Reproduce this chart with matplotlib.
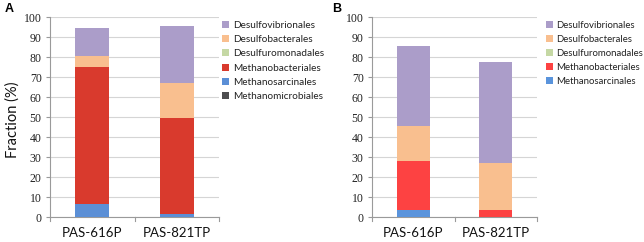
import matplotlib
matplotlib.use("Agg")
import matplotlib.pyplot as plt
from matplotlib.patches import Patch

samples = ["PAS-616P", "PAS-821TP"]

# Panel A (bottom -> top stacking order)
a_orders = ["Methanomicrobiales", "Methanosarcinales", "Methanobacteriales",
            "Desulfuromonadales", "Desulfobacterales", "Desulfovibrionales"]
a_values = {
    "Methanomicrobiales": [0.0, 0.0],
    "Methanosarcinales": [6.5, 1.5],
    "Methanobacteriales": [68.5, 48.0],
    "Desulfuromonadales": [0.0, 0.0],
    "Desulfobacterales": [5.5, 17.5],
    "Desulfovibrionales": [14.0, 28.5],
}
a_colors = {
    "Methanomicrobiales": "#4d4d4f",
    "Methanosarcinales": "#5b8fd6",
    "Methanobacteriales": "#d93a2d",
    "Desulfuromonadales": "#c5d8a4",
    "Desulfobacterales": "#f9bf8f",
    "Desulfovibrionales": "#ab9dc9",
}

# Panel B
b_orders = ["Methanosarcinales", "Methanobacteriales",
            "Desulfuromonadales", "Desulfobacterales", "Desulfovibrionales"]
b_values = {
    "Methanosarcinales": [3.5, 0.0],
    "Methanobacteriales": [24.5, 3.5],
    "Desulfuromonadales": [0.0, 0.0],
    "Desulfobacterales": [17.5, 23.5],
    "Desulfovibrionales": [40.0, 50.5],
}
b_colors = {
    "Methanosarcinales": "#5a94dc",
    "Methanobacteriales": "#fd4242",
    "Desulfuromonadales": "#c5d8a4",
    "Desulfobacterales": "#f9bf8f",
    "Desulfovibrionales": "#ab9dc9",
}

yticks = list(range(0, 101, 10))

fig = plt.figure(figsize=(6.44, 2.42), dpi=100)
axA = fig.add_axes([50/644, 1-217/242, 169/644, 200/242])
axB = fig.add_axes([372/644, 1-217/242, 165/644, 200/242])

sans = ["Lato", "DejaVu Sans"]
serif = ["Liberation Serif", "DejaVu Serif"]


def draw(ax, orders, values, colors, legend_x, legend_fs):
    bottoms = [0.0] * len(samples)
    x = list(range(len(samples)))
    for name in orders:
        v = values[name]
        ax.bar(x, v, bottom=bottoms, width=0.4, color=colors[name], zorder=3)
        bottoms = [b + vi for b, vi in zip(bottoms, v)]
    ax.set_xlim(-0.5, len(samples) - 0.5)
    ax.set_ylim(0, 100)
    ax.set_yticks(yticks)
    ax.set_yticklabels([str(t) for t in yticks], fontfamily=serif, fontsize=8.5, color="#222222")
    ax.set_xticks(x)
    ax.set_xticklabels(samples, fontfamily=sans, fontsize=9.5, color="#111111")
    ax.tick_params(axis="x", length=0, pad=7)
    ax.tick_params(axis="y", length=3, color="#9a9a9a", direction="out", pad=3)
    # category boundary ticks on bottom
    for b in [-0.5, 0.5, 1.5]:
        ax.plot([b, b], [0, -1.8], color="#9a9a9a", lw=0.8, clip_on=False, zorder=4)
    ax.grid(axis="y", color="#d5d5d5", lw=0.8, zorder=0)
    for s in ["top", "right"]:
        ax.spines[s].set_visible(False)
    ax.spines["left"].set_color("#9a9a9a")
    ax.spines["bottom"].set_color("#9a9a9a")
    ax.spines["left"].set_linewidth(0.8)
    ax.spines["bottom"].set_linewidth(0.8)
    handles = [Patch(facecolor=colors[n], label=n) for n in reversed(orders)]
    leg = ax.legend(handles=handles, loc="upper left", bbox_to_anchor=(legend_x, 1 - 21/242),
                    bbox_transform=fig.transFigure, frameon=False,
                    prop={"family": sans, "size": legend_fs}, handlelength=0.7, handleheight=0.7,
                    handletextpad=0.4, labelspacing=0.52, borderaxespad=0, borderpad=0)
    for t in leg.get_texts():
        t.set_color("#222222")


draw(axA, a_orders, a_values, a_colors, 222/644, 7.2)
draw(axB, b_orders, b_values, b_colors, 546/644, 6.9)

fig.text(13/644, 1-120/242, "Fraction (%)", fontfamily=sans, fontsize=10.5, rotation=90,
         ha="center", va="center", color="#111111")

fig.text(5/644, 1-9/242, "A", fontfamily=["Liberation Sans", "DejaVu Sans"], fontweight="bold",
         fontsize=9, va="center", ha="left")
fig.text(332/644, 1-9/242, "B", fontfamily=["Liberation Sans", "DejaVu Sans"], fontweight="bold",
         fontsize=9, va="center", ha="left")

fig.savefig("out.png", dpi=100)
